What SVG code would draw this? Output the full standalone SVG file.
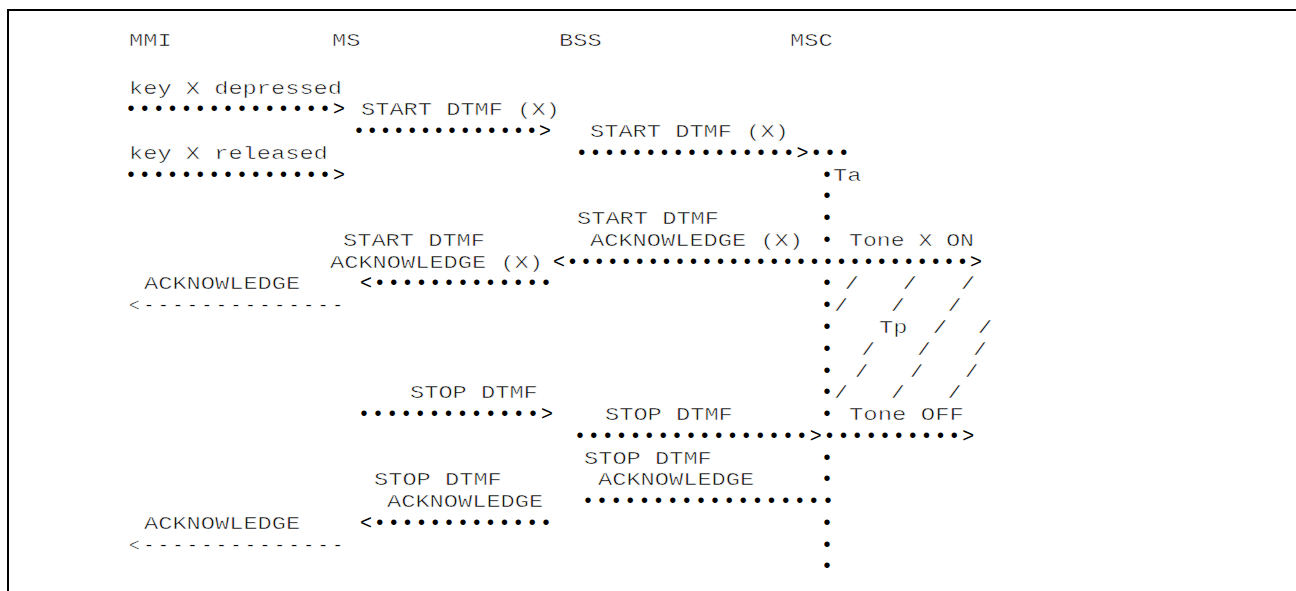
<svg xmlns="http://www.w3.org/2000/svg" width="1296" height="591" viewBox="0 0 1296 591" xml:space="preserve">
<style>
text { font-family: "Liberation Mono", "Courier New", monospace; font-size: 18px; fill: #000; white-space: pre; }
text.t { stroke: #fff; stroke-width: 0.5; }
text.d { font-size: 20px; }
.frame { fill: none; stroke: #000; stroke-width: 2; }
</style>
<rect width="1296" height="591" fill="#fff"/>
<path class="frame" d="M8,591 V10 H1296"/>
<g id="node-mmi"><text class="t" x="129" y="46" textLength="42.6" lengthAdjust="spacingAndGlyphs">MMI</text></g>
<g id="node-ms"><text class="t" x="332" y="46" textLength="28.4" lengthAdjust="spacingAndGlyphs">MS</text></g>
<g id="node-bss"><text class="t" x="559" y="46" textLength="42.6" lengthAdjust="spacingAndGlyphs">BSS</text></g>
<g id="node-msc"><text class="t" x="790" y="46" textLength="42.6" lengthAdjust="spacingAndGlyphs">MSC</text>
<g id="msc-timeline">
<text class="d" x="821" y="180.6">•</text>
<text class="d" x="821" y="202.4">•</text>
<text class="d" x="821" y="224.1">•</text>
<text class="d" x="821" y="245.9">•</text>
<text class="d" x="821" y="289.4">•</text>
<text class="d" x="821" y="311.2">•</text>
<text class="d" x="821" y="333.0">•</text>
<text class="d" x="821" y="354.7">•</text>
<text class="d" x="821" y="376.5">•</text>
<text class="d" x="821" y="398.3">•</text>
<text class="d" x="821" y="420.1">•</text>
<text class="d" x="821" y="463.6">•</text>
<text class="d" x="821" y="485.4">•</text>
<text class="d" x="821" y="528.9">•</text>
<text class="d" x="821" y="550.7">•</text>
<text class="d" x="821" y="572.4">•</text>
</g>
</g>
<g id="connectors">
<text class="d" x="125" y="115.3" textLength="220">•••••••••••••••&gt;</text>
<text class="d" x="353" y="137.0" textLength="198">••••••••••••••&gt;</text>
<text class="d" x="575.8" y="158.8" textLength="274">••••••••••••••••&gt;•••</text>
<text class="d" x="125" y="180.6" textLength="220">•••••••••••••••&gt;</text>
<text class="d" x="553" y="267.7" textLength="429">&lt;••••••••••••••••••••••••••••••&gt;</text>
<text class="d" x="360" y="289.4" textLength="192">&lt;•••••••••••••</text>
<text class="t" x="129" y="311.2" textLength="214">&lt;--------------</text>
<text class="d" x="358" y="420.1" textLength="195">•••••••••••••&gt;</text>
<text class="d" x="574" y="441.8" textLength="400.2">•••••••••••••••••&gt;••••••••••&gt;</text>
<text class="d" x="582" y="507.1" textLength="252">••••••••••••••••••</text>
<text class="d" x="360" y="528.9" textLength="192">&lt;•••••••••••••</text>
<text class="t" x="129" y="550.7" textLength="214">&lt;--------------</text>
</g>
<g id="labels">
<text class="t" x="129" y="93.5" textLength="213" lengthAdjust="spacingAndGlyphs">key X depressed</text>
<text class="t" x="361" y="115.3" textLength="198.8" lengthAdjust="spacingAndGlyphs">START DTMF (X)</text>
<text class="t" x="590" y="137.0" textLength="198.8" lengthAdjust="spacingAndGlyphs">START DTMF (X)</text>
<text class="t" x="129" y="158.8" textLength="198.8" lengthAdjust="spacingAndGlyphs">key X released</text>
<text class="t" x="833" y="180.6" textLength="28.4" lengthAdjust="spacingAndGlyphs">Ta</text>
<text class="t" x="577" y="224.1" textLength="142" lengthAdjust="spacingAndGlyphs">START DTMF</text>
<text class="t" x="343" y="245.9" textLength="142" lengthAdjust="spacingAndGlyphs">START DTMF</text>
<text class="t" x="590" y="245.9" textLength="213" lengthAdjust="spacingAndGlyphs">ACKNOWLEDGE (X)</text>
<text class="t" x="849" y="245.9" textLength="125" lengthAdjust="spacingAndGlyphs">Tone X ON</text>
<text class="t" x="330" y="267.7" textLength="213" lengthAdjust="spacingAndGlyphs">ACKNOWLEDGE (X)</text>
<text class="t" x="144" y="289.4" textLength="156.2" lengthAdjust="spacingAndGlyphs">ACKNOWLEDGE</text>
<text class="t" x="410" y="398.3" textLength="127.8" lengthAdjust="spacingAndGlyphs">STOP DTMF</text>
<text class="t" x="605" y="420.1" textLength="127.8" lengthAdjust="spacingAndGlyphs">STOP DTMF</text>
<text class="t" x="849" y="420.1" textLength="115" lengthAdjust="spacingAndGlyphs">Tone OFF</text>
<text class="t" x="584" y="463.6" textLength="127.8" lengthAdjust="spacingAndGlyphs">STOP DTMF</text>
<text class="t" x="374" y="485.4" textLength="127.8" lengthAdjust="spacingAndGlyphs">STOP DTMF</text>
<text class="t" x="598" y="485.4" textLength="156.2" lengthAdjust="spacingAndGlyphs">ACKNOWLEDGE</text>
<text class="t" x="387" y="507.1" textLength="156.2" lengthAdjust="spacingAndGlyphs">ACKNOWLEDGE</text>
<text class="t" x="144" y="528.9" textLength="156.2" lengthAdjust="spacingAndGlyphs">ACKNOWLEDGE</text>
</g>
<g id="timer-tp">
<text class="t" x="844.4" y="289.4" textLength="131" lengthAdjust="spacingAndGlyphs">/   /   /</text>
<text class="t" x="834" y="311.2" textLength="127.8" lengthAdjust="spacingAndGlyphs">/   /   /</text>
<text class="t" x="879" y="333.0" textLength="28.4" lengthAdjust="spacingAndGlyphs">Tp</text>
<text class="t" x="932.5" y="333.0" textLength="60" lengthAdjust="spacingAndGlyphs">/  /</text>
<text class="t" x="861.3" y="354.7" textLength="125.6" lengthAdjust="spacingAndGlyphs">/   /   /</text>
<text class="t" x="854.8" y="376.5" textLength="123.8" lengthAdjust="spacingAndGlyphs">/   /   /</text>
<text class="t" x="834" y="398.3" textLength="127.8" lengthAdjust="spacingAndGlyphs">/   /   /</text>
</g>
</svg>
